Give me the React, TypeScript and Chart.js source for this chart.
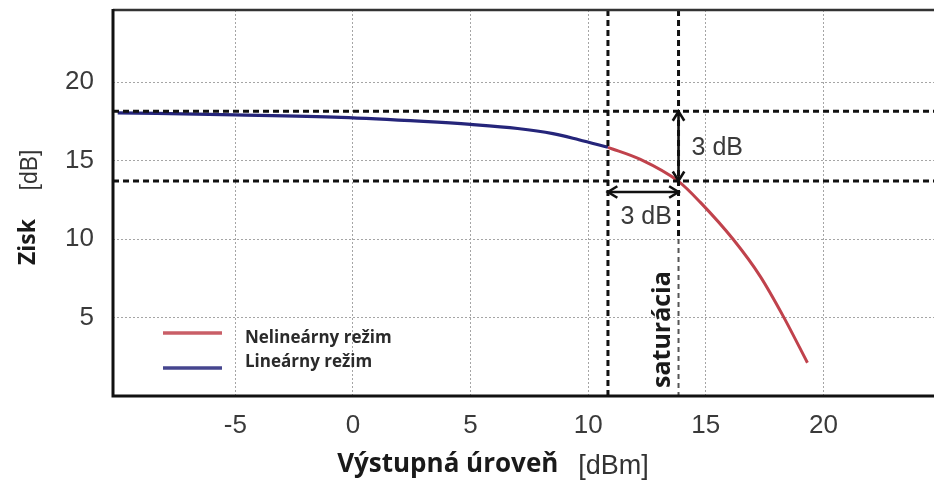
import React, { useEffect, useRef } from "react";
import { Chart, registerables } from "chart.js";

Chart.register(...registerables);

// ---- data ----
const LINEAR_X = [-10.0, -5.0, -0.5, 3.0, 5.0, 7.0, 8.5, 9.6, 10.84];
const LINEAR_Y = [18.05, 17.92, 17.76, 17.5, 17.31, 17.05, 16.72, 16.33, 15.85];
const NONLINEAR_X = [10.84, 12.22, 13.84, 14.77, 16.17, 17.32, 18.3, 19.32];
const NONLINEAR_Y = [15.85, 15.08, 13.68, 12.34, 9.97, 7.61, 5.06, 2.12];
const X_TICKS = [-5, 0, 5, 10, 15, 20];
const Y_TICKS = [5, 10, 15, 20];
const X_RANGE = [-10.2, 24.7];
const Y_RANGE = [0, 24.6];
const REF_GAIN = [18.14, 13.71]; // horizontal dashed lines [dB]
const REF_OUT = [10.84, 13.84]; // vertical dashed lines [dBm]
const ARROW_GAIN = 13.0; // level of the horizontal 3 dB arrow
const SERIES_LABELS = ["Nelineárny režim", "Lineárny režim"];
const ARROW_LABEL = "3 dB";
const SAT_LABEL = "saturácia";
const Y_TITLE = ["Zisk", "[dB]"];
const X_TITLE = ["Výstupná úroveň", "[dBm]"];

const RED = "#c0424c";
const BLUE = "#25257a";

function arrowHead(ctx: CanvasRenderingContext2D, x: number, y: number, ang: number) {
  const L = 11;
  const W = 0.55;
  ctx.beginPath();
  ctx.moveTo(x + L * Math.cos(ang + Math.PI - W), y + L * Math.sin(ang + Math.PI - W));
  ctx.lineTo(x, y);
  ctx.lineTo(x + L * Math.cos(ang + Math.PI + W), y + L * Math.sin(ang + Math.PI + W));
  ctx.stroke();
}

const decorPlugin = {
  id: "decor",
  afterDatasetsDraw(chart: any) {
    const { ctx, chartArea: ca, scales } = chart;
    const x = scales.x;
    const y = scales.y;
    ctx.save();
    // dashed reference lines
    ctx.strokeStyle = "#111";
    ctx.lineWidth = 3;
    ctx.setLineDash([6, 4]);
    REF_GAIN.forEach((g) => {
      const py = y.getPixelForValue(g);
      ctx.beginPath();
      ctx.moveTo(ca.left, py);
      ctx.lineTo(ca.right, py);
      ctx.stroke();
    });
    const lx = x.getPixelForValue(REF_OUT[0]);
    ctx.beginPath();
    ctx.moveTo(lx, ca.top);
    ctx.lineTo(lx, ca.bottom);
    ctx.stroke();
    const rx = x.getPixelForValue(REF_OUT[1]);
    const breakY = y.getPixelForValue(10.0);
    ctx.beginPath();
    ctx.moveTo(rx, ca.top);
    ctx.lineTo(rx, breakY);
    ctx.stroke();
    ctx.strokeStyle = "#555";
    ctx.lineWidth = 2;
    ctx.setLineDash([5, 4]);
    ctx.beginPath();
    ctx.moveTo(rx, breakY);
    ctx.lineTo(rx, ca.bottom);
    ctx.stroke();

    // arrows
    ctx.setLineDash([]);
    ctx.strokeStyle = "#111";
    ctx.lineWidth = 2.6;
    const y1 = y.getPixelForValue(REF_GAIN[0]);
    const y2 = y.getPixelForValue(REF_GAIN[1]);
    ctx.beginPath();
    ctx.moveTo(rx, y1 + 1);
    ctx.lineTo(rx, y2 - 1);
    ctx.stroke();
    arrowHead(ctx, rx, y1, -Math.PI / 2);
    arrowHead(ctx, rx, y2, Math.PI / 2);
    const ay = y.getPixelForValue(ARROW_GAIN);
    ctx.beginPath();
    ctx.moveTo(lx + 1, ay);
    ctx.lineTo(rx - 1, ay);
    ctx.stroke();
    arrowHead(ctx, lx, ay, Math.PI);
    arrowHead(ctx, rx, ay, 0);

    // arrow labels
    ctx.fillStyle = "#3a3a3a";
    ctx.font = "25px 'Liberation Sans', Arial, sans-serif";
    ctx.textBaseline = "middle";
    ctx.textAlign = "left";
    ctx.fillText(ARROW_LABEL, rx + 13, (y1 + y2) / 2 + 2);
    ctx.textAlign = "center";
    ctx.fillText(ARROW_LABEL, (lx + rx) / 2 + 3, ay + 25);

    // saturation label
    ctx.save();
    ctx.translate(rx - 16, ca.bottom - 8);
    ctx.rotate(-Math.PI / 2);
    ctx.fillStyle = "#1a1a1a";
    ctx.font = "bold 25px 'Open Sans', sans-serif";
    ctx.textAlign = "left";
    ctx.textBaseline = "middle";
    ctx.fillText(SAT_LABEL, 0, 0);
    ctx.restore();

    // legend
    const ds = chart.data.datasets;
    const rows = [
      { i: 0, lineY: ca.top + 323, textY: ca.top + 328 },
      { i: 1, lineY: ca.top + 358, textY: ca.top + 352 },
    ];
    rows.forEach((r) => {
      ctx.strokeStyle = ds[r.i].borderColor;
      ctx.globalAlpha = 0.85;
      ctx.lineWidth = 3.5;
      ctx.beginPath();
      ctx.moveTo(ca.left + 50, r.lineY);
      ctx.lineTo(ca.left + 109, r.lineY);
      ctx.stroke();
      ctx.globalAlpha = 1;
      ctx.fillStyle = "#2a2a2a";
      ctx.font = "bold 17px 'Open Sans', sans-serif";
      ctx.textAlign = "left";
      ctx.textBaseline = "middle";
      ctx.fillText(ds[r.i].label, ca.left + 132, r.textY);
    });

    // frame
    ctx.strokeStyle = "#333";
    ctx.lineWidth = 2.5;
    ctx.beginPath();
    ctx.moveTo(ca.left, ca.top);
    ctx.lineTo(ca.right, ca.top);
    ctx.stroke();
    ctx.strokeStyle = "#111";
    ctx.lineWidth = 3;
    ctx.beginPath();
    ctx.moveTo(ca.left, ca.top - 1);
    ctx.lineTo(ca.left, ca.bottom);
    ctx.lineTo(ca.right, ca.bottom);
    ctx.stroke();

    // axis titles
    ctx.fillStyle = "#1a1a1a";
    ctx.textBaseline = "alphabetic";
    ctx.font = "bold 26px 'Open Sans', sans-serif";
    const t1w = ctx.measureText(X_TITLE[0]).width;
    ctx.font = "27px 'Liberation Sans', Arial, sans-serif";
    const t2w = ctx.measureText(X_TITLE[1]).width;
    const gap = 20;
    const cx = 493;
    const sx = cx - (t1w + gap + t2w) / 2;
    ctx.textAlign = "left";
    ctx.font = "bold 26px 'Open Sans', sans-serif";
    ctx.fillText(X_TITLE[0], sx, 472);
    ctx.fillStyle = "#333";
    ctx.font = "27px 'Liberation Sans', Arial, sans-serif";
    ctx.fillText(X_TITLE[1], sx + t1w + gap, 474);

    ctx.save();
    ctx.translate(35, 0);
    ctx.rotate(-Math.PI / 2);
    ctx.textAlign = "center";
    ctx.fillStyle = "#1a1a1a";
    ctx.font = "bold 23px 'Open Sans', sans-serif";
    ctx.fillText(Y_TITLE[0], -242, 0);
    ctx.fillStyle = "#333";
    ctx.font = "23px 'Liberation Sans', Arial, sans-serif";
    ctx.fillText(Y_TITLE[1], -170, 2);
    ctx.restore();

    ctx.restore();
  },
};

export default function App() {
  const ref = useRef<HTMLCanvasElement>(null);
  useEffect(() => {
    if (!ref.current) return;
    const chart = new Chart(ref.current, {
      type: "line",
      data: {
        datasets: [
          {
            label: SERIES_LABELS[0],
            data: NONLINEAR_X.map((v, i) => ({ x: v, y: NONLINEAR_Y[i] })),
            borderColor: RED,
            borderWidth: 3,
            pointRadius: 0,
            cubicInterpolationMode: "monotone",
          },
          {
            label: SERIES_LABELS[1],
            data: LINEAR_X.map((v, i) => ({ x: v, y: LINEAR_Y[i] })),
            borderColor: BLUE,
            borderWidth: 3.2,
            pointRadius: 0,
            cubicInterpolationMode: "monotone",
          },
        ],
      },
      options: {
        animation: false,
        responsive: true,
        maintainAspectRatio: false,
        layout: { padding: { top: 10, left: 0, right: 0, bottom: 0 } },
        plugins: { legend: { display: false }, tooltip: { enabled: false } },
        scales: {
          x: {
            type: "linear",
            min: X_RANGE[0],
            max: X_RANGE[1],
            afterBuildTicks: (s: any) => {
              s.ticks = X_TICKS.map((v) => ({ value: v }));
            },
            afterFit: (s: any) => {
              s.height = 91;
              s.paddingLeft = 0;
              s.paddingRight = 0;
            },
            grid: { color: "#a5a5a5", lineWidth: 1, drawTicks: false },
            border: { display: false, dash: [2, 2] },
            ticks: {
              padding: 14,
              color: "#3a3a3a",
              font: { family: "'Liberation Sans', Arial, sans-serif", size: 26 },
              maxRotation: 0,
            },
          },
          y: {
            type: "linear",
            min: Y_RANGE[0],
            max: Y_RANGE[1],
            afterBuildTicks: (s: any) => {
              s.ticks = Y_TICKS.map((v) => ({ value: v }));
            },
            afterFit: (s: any) => {
              s.width = 113;
              s.paddingTop = 0;
              s.paddingBottom = 0;
            },
            grid: { color: "#a5a5a5", lineWidth: 1, drawTicks: false },
            border: { display: false, dash: [2, 2] },
            ticks: {
              padding: 19,
              color: "#3a3a3a",
              font: { family: "'Liberation Sans', Arial, sans-serif", size: 26 },
            },
          },
        },
      },
      plugins: [decorPlugin],
    });
    return () => chart.destroy();
  }, []);
  return (
    <div style={{ position: "fixed", left: 0, top: 0, width: 934, height: 487, background: "#fff" }}>
      <canvas ref={ref} />
    </div>
  );
}
